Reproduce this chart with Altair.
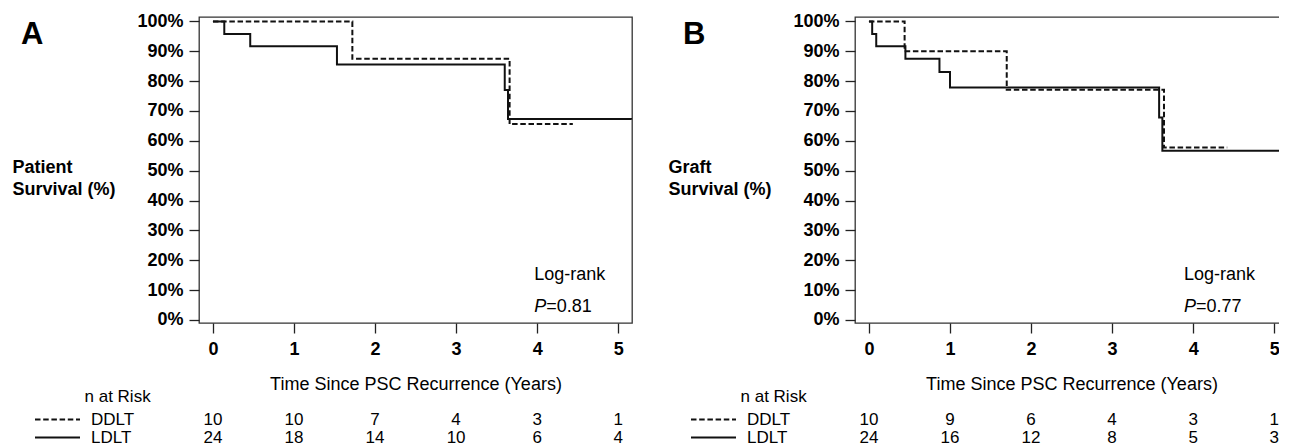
import altair as alt
import pandas as pd

FONT = "Liberation Sans"

# ---------------- data ----------------
# Panel A: patient survival (Kaplan-Meier step points: time in years, survival fraction)
a_ddlt_t = [0.0, 1.72, 3.66, 4.44]
a_ddlt_s = [1.0, 0.875, 0.656, 0.656]
a_ldlt_t = [0.0, 0.14, 0.46, 1.53, 3.60, 3.64, 5.17]
a_ldlt_s = [1.0, 0.958, 0.917, 0.856, 0.770, 0.673, 0.673]

# Panel B: graft survival
b_ddlt_t = [0.0, 0.44, 1.70, 3.64, 4.42]
b_ddlt_s = [1.0, 0.90, 0.771, 0.578, 0.578]
b_ldlt_t = [0.0, 0.04, 0.09, 0.45, 0.87, 1.00, 3.58, 3.62, 5.17]
b_ldlt_s = [1.0, 0.958, 0.917, 0.875, 0.831, 0.779, 0.678, 0.567, 0.567]

# numbers at risk
risk_years = [0, 1, 2, 3, 4, 5]
a_risk_ddlt = [10, 10, 7, 4, 3, 1]
a_risk_ldlt = [24, 18, 14, 10, 6, 4]
b_risk_ddlt = [10, 9, 6, 4, 3, 1]
b_risk_ldlt = [24, 16, 12, 8, 5, 3]

groups = ["DDLT", "LDLT"]
panel_letters = ["A", "B"]
y_titles = [["Patient", "Survival (%)"], ["Graft", "Survival (%)"]]
p_values = ["0.81", "0.77"]
x_title = "Time Since PSC Recurrence (Years)"
risk_title = "n at Risk"
y_ticks = [0.0, 0.1, 0.2, 0.3, 0.4, 0.5, 0.6, 0.7, 0.8, 0.9, 1.0]

# ---------------- layout constants ----------------
W, H = 433, 306
X_DOM = [-0.172, 5.17]
Y_DOM = [-0.0105, 1.015]
INK = "#111111"


def panel(letter, ytitle, d_t, d_s, l_t, l_s, r_d, r_l, pval, logrank_x, letter_dx):
    xs = alt.Scale(domain=X_DOM, nice=False, zero=False)
    ys = alt.Scale(domain=Y_DOM, nice=False, zero=False)

    km = pd.DataFrame({
        "t": d_t + l_t,
        "s": d_s + l_s,
        "group": [groups[0]] * len(d_t) + [groups[1]] * len(l_t),
    })

    lines = alt.Chart(km).mark_line(
        interpolate="step-after", strokeWidth=2, color=INK, clip=True
    ).encode(
        x=alt.X("t:Q", scale=xs,
                axis=alt.Axis(values=risk_years, format="d", title=x_title,
                              labelOverlap=False)),
        y=alt.Y("s:Q", scale=ys,
                axis=alt.Axis(values=y_ticks, format=".0%", title=ytitle,
                              labelOverlap=False, tickCount=11,
                              titleAngle=0, titleAlign="left", titleBaseline="top",
                              titleX=-187, titleY=141.5, titleLineHeight=22)),
        strokeDash=alt.StrokeDash(
            "group:N",
            scale=alt.Scale(domain=groups, range=[[5.5, 2.7], [1, 0]]),
            legend=alt.Legend(title=None, orient="none", legendX=-150, legendY=394,
                              symbolType="M-4.5,0H4.5", symbolSize=100,
                              symbolStrokeWidth=1.8, symbolStrokeColor=INK,
                              labelOffset=25, rowPadding=0, padding=0,
                              labelFontSize=17, labelFont=FONT, labelColor="#000"),
        ),
    )

    def note(text, y, **kw):
        return alt.Chart(pd.DataFrame({"label": [text]})).mark_text(
            align="left", baseline="middle", fontSize=18, font=FONT, color="#000", **kw
        ).encode(
            x=alt.datum(logrank_x),
            y=alt.datum(y),
            text="label:N",
        )

    logrank = note("Log-rank", 0.151)
    p_letter = note("P", 0.044, fontStyle="italic")
    p_val = note("=" + pval, 0.044, dx=12)

    main = alt.layer(lines, logrank, p_letter, p_val).properties(
        width=W, height=H,
        title=alt.TitleParams(letter, anchor="start", frame="group", fontSize=31,
                              fontWeight="bold", font=FONT, color="#000",
                              dx=letter_dx, dy=39, offset=0, baseline="top"),
    )

    risk = pd.DataFrame({
        "year": risk_years * 2,
        "group": [groups[0]] * len(risk_years) + [groups[1]] * len(risk_years),
        "n": r_d + r_l,
    })
    table = alt.Chart(risk).mark_text(
        fontSize=17, font=FONT, color="#000", baseline="middle"
    ).encode(
        x=alt.X("year:Q", scale=alt.Scale(domain=X_DOM, nice=False, zero=False), axis=None),
        y=alt.Y("group:N", scale=alt.Scale(domain=groups, type="point", padding=0.5),
                axis=alt.Axis(labels=False, ticks=False, domain=False, title=risk_title,
                              titleAngle=0, titleAlign="left", titleBaseline="middle",
                              titleX=-115, titleY=-14.5, titleFontSize=17,
                              titleFontWeight="normal", titleFont=FONT, titleColor="#000")),
        text="n:Q",
    ).properties(width=W, height=36, view=alt.ViewBackground(stroke=None))

    return alt.vconcat(main, table, spacing=87.5, bounds="flush").resolve_scale(
        strokeDash="independent").resolve_legend(strokeDash="independent")


pa = panel(panel_letters[0], y_titles[0], a_ddlt_t, a_ddlt_s, a_ldlt_t, a_ldlt_s,
           a_risk_ddlt, a_risk_ldlt, p_values[0], 3.965, -178)
pb = panel(panel_letters[1], y_titles[1], b_ddlt_t, b_ddlt_s, b_ldlt_t, b_ldlt_s,
           b_risk_ddlt, b_risk_ldlt, p_values[1], 3.887, -172)

chart = alt.hconcat(pa, pb, spacing=656, bounds="flush").resolve_scale(
    strokeDash="independent").resolve_legend(strokeDash="independent").configure(
    padding={"left": 3, "top": 3, "right": -10, "bottom": 0}, background="white"
).configure_view(
    stroke="#333333", strokeWidth=1.3
).configure_axis(
    domain=False, grid=False, tickColor="#222222", tickWidth=1.3, tickSize=10,
    labelFont=FONT, labelFontSize=18, labelFontWeight="bold", labelColor="#000",
    titleFont=FONT, titleColor="#000", labelFlush=False, labelOverlap=False
).configure_axisY(
    labelPadding=6, titleFontSize=18, titleFontWeight="bold"
).configure_axisX(
    labelPadding=7.5, titlePadding=17, titleFontSize=18, titleFontWeight="normal"
)

chart.save("out.html", embed_options={"renderer": "svg", "actions": False})
